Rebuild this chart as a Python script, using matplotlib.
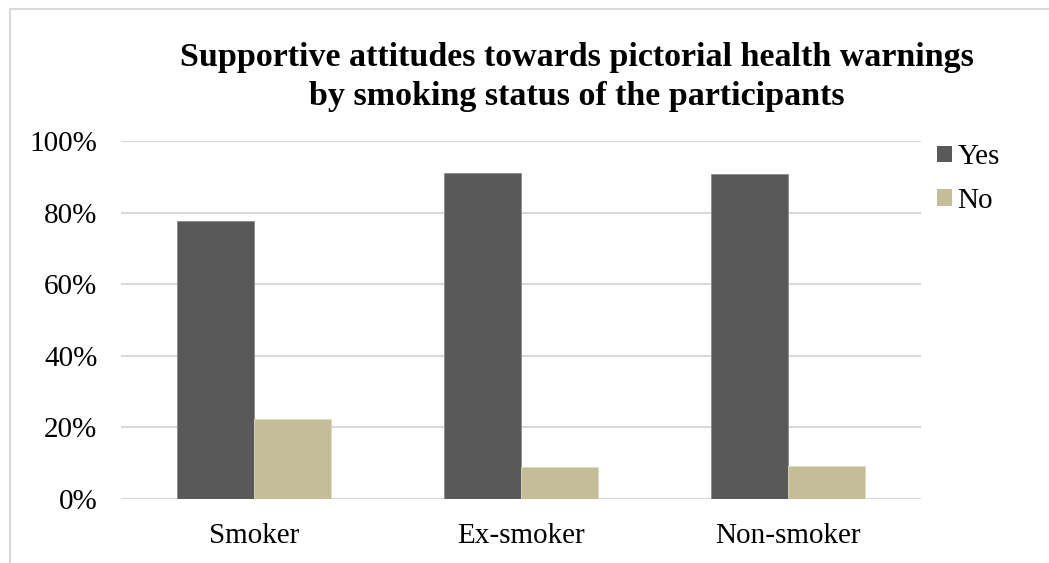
import matplotlib
matplotlib.use("Agg")
import matplotlib.pyplot as plt
import numpy as np
from matplotlib.lines import Line2D
from matplotlib.patches import Patch

categories = ["Smoker", "Ex-smoker", "Non-smoker"]
yes_values = [0.776, 0.912, 0.908]
no_values = [0.224, 0.088, 0.092]
series_names = ["Yes", "No"]
ytick_values = [0, 0.2, 0.4, 0.6, 0.8, 1.0]
ytick_labels = ["0%", "20%", "40%", "60%", "80%", "100%"]
title = "Supportive attitudes towards pictorial health warnings\nby smoking status of the participants"

yes_color = "#595959"
no_color = "#c4bd97"

plt.rcParams["font.family"] = ["Liberation Serif", "DejaVu Serif"]

W, H = 1049, 563
fig = plt.figure(figsize=(W / 100, H / 100), dpi=100)
ax = fig.add_axes([121 / W, 1 - 499 / H, 800 / W, 358 / H])

x = np.arange(len(categories))
bw = 0.289
ax.bar(x - bw / 2, yes_values, bw, color=yes_color, edgecolor="#8a8a8a", linewidth=0.6, zorder=3, label=series_names[0])
ax.bar(x + bw / 2, no_values, bw, color=no_color, edgecolor="#dcd8c0", linewidth=0.6, zorder=3, label=series_names[1])

ax.set_xlim(-0.5, len(categories) - 0.5)
ax.set_ylim(0, 1.0)
ax.set_yticks(ytick_values)
ax.set_yticklabels(ytick_labels)
ax.set_xticks(x)
ax.set_xticklabels(categories)
ax.yaxis.grid(True, color="#d9d9d9", linewidth=1.5, zorder=0)
ax.set_axisbelow(True)
for s in ax.spines.values():
    s.set_visible(False)
ax.tick_params(axis="both", length=0, labelsize=21, colors="black")
ax.tick_params(axis="y", pad=17)
ax.tick_params(axis="x", pad=17)

fig.text(577 / W, 1 - 77 / H, title, ha="center", va="center", fontsize=24.5,
         fontweight="bold", linespacing=1.32)

handles = [Patch(facecolor=yes_color), Patch(facecolor=no_color)]
fig.legend(handles, series_names, loc="upper left", bbox_to_anchor=(911 / W, 1 - 118 / H),
           frameon=False, fontsize=21, handlelength=0.5, handleheight=0.5,
           handletextpad=0.2, labelspacing=0.6)

fig.add_artist(Line2D([10 / W, 10 / W], [0, 1 - 9 / H], transform=fig.transFigure, color="#d9d9d9", linewidth=1.5))
fig.add_artist(Line2D([10 / W, 1], [1 - 9 / H, 1 - 9 / H], transform=fig.transFigure, color="#d9d9d9", linewidth=1.5))

fig.savefig("out.png", dpi=100, facecolor="white")
